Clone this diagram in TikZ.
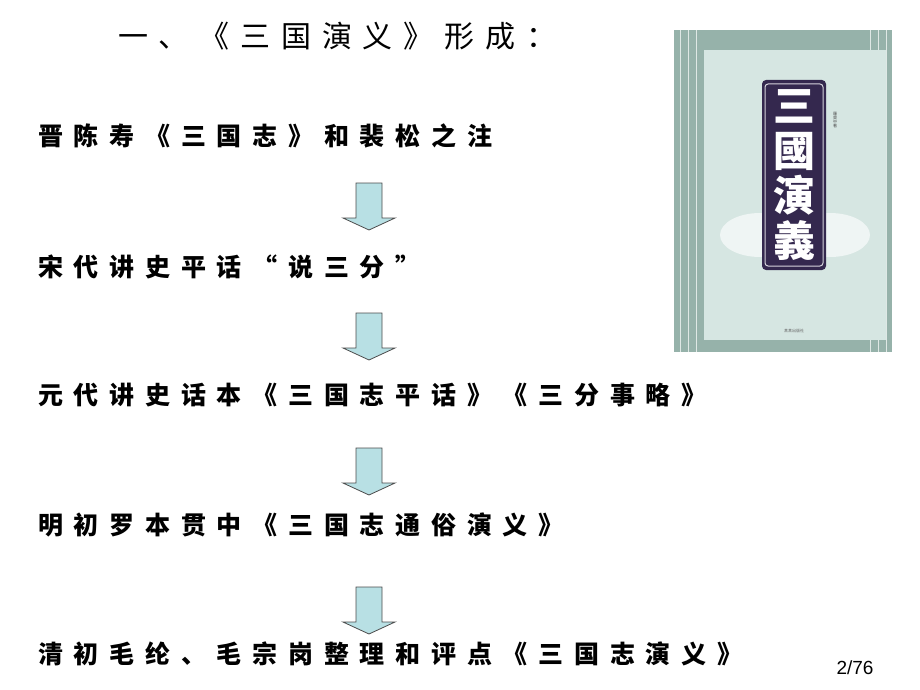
\documentclass[tikz,border=0pt]{standalone}
\usepackage{fontspec}
\setmainfont{Liberation Sans}
\newfontfamily\cjk[LetterSpace=43]{Noto Sans CJK SC}
\newfontfamily\cjkt[LetterSpace=36]{Noto Sans CJK SC}
\newfontfamily\cjktc{Noto Sans CJK TC}
\definecolor{arrowfill}{RGB}{184,224,228}
\definecolor{bookout}{RGB}{150,178,170}
\definecolor{bookin}{RGB}{214,230,226}
\definecolor{plaque}{RGB}{52,40,78}
\begin{document}
\begin{tikzpicture}[x=1pt,y=-1pt,
  line/.style={anchor=base west,inner sep=0pt,font=\cjk\fontsize{25}{25}\selectfont\bfseries},
  down/.style={fill=arrowfill,draw=black!70,line width=0.8pt}]
\useasboundingbox (0,0) rectangle (920,690);
\node[anchor=base west,inner sep=0pt,font=\cjkt\fontsize{30}{30}\selectfont] (title) at (118,48) {一、《三国演义》形成：};
\node[line] (l1) at (38,146) {晋陈寿《三国志》和裴松之注};
\node[line] (l2) at (38,276) {宋代讲史平话“说三分”};
\node[line] (l3) at (38,404) {元代讲史话本《三国志平话》《三分事略》};
\node[line] (l4) at (38,534) {明初罗本贯中《三国志通俗演义》};
\node[line] (l5) at (38,663) {清初毛纶、毛宗岗整理和评点《三国志演义》};
\foreach \t in {183,313,448,587}{
  \draw[down] (356,\t) -- (382,\t) -- (382,\t+35) -- (395,\t+35) -- (369,\t+47) -- (343,\t+35) -- (356,\t+35) -- cycle;
}
% book
\fill[bookout] (674,30) rectangle (892,352);
\foreach \x in {680,688,696,870,878,886}{\draw[white!70!bookout,line width=1pt] (\x,30) -- (\x,352);}
\fill[bookin] (704,50) rectangle (886,340);
\fill[white!60!bookin] (760,235) ellipse (40 and 22);
\fill[white!60!bookin] (830,235) ellipse (40 and 22);
\fill[plaque,rounded corners=4pt] (762,80) rectangle (826,270);
\draw[white!80!plaque,line width=1pt,rounded corners=3pt] (765,84) rectangle (823,266);
\node[font=\cjktc\fontsize{42}{45}\selectfont\bfseries,text=white,align=center,inner sep=0pt] (bt) at (794,175) {三\\國\\演\\義};
\node[font=\fontsize{4}{4}\selectfont,text=black!60] (pub) at (794,331) {\cjktc 某某出版社};
\node[font=\cjktc\fontsize{4}{4}\selectfont,text=black!70,align=center] (auth) at (835,120) {羅\\貫\\中\\著};
\node[anchor=base east,font=\fontsize{19}{19}\selectfont] (pg) at (877,674) {2/76};
\end{tikzpicture}
\end{document}
